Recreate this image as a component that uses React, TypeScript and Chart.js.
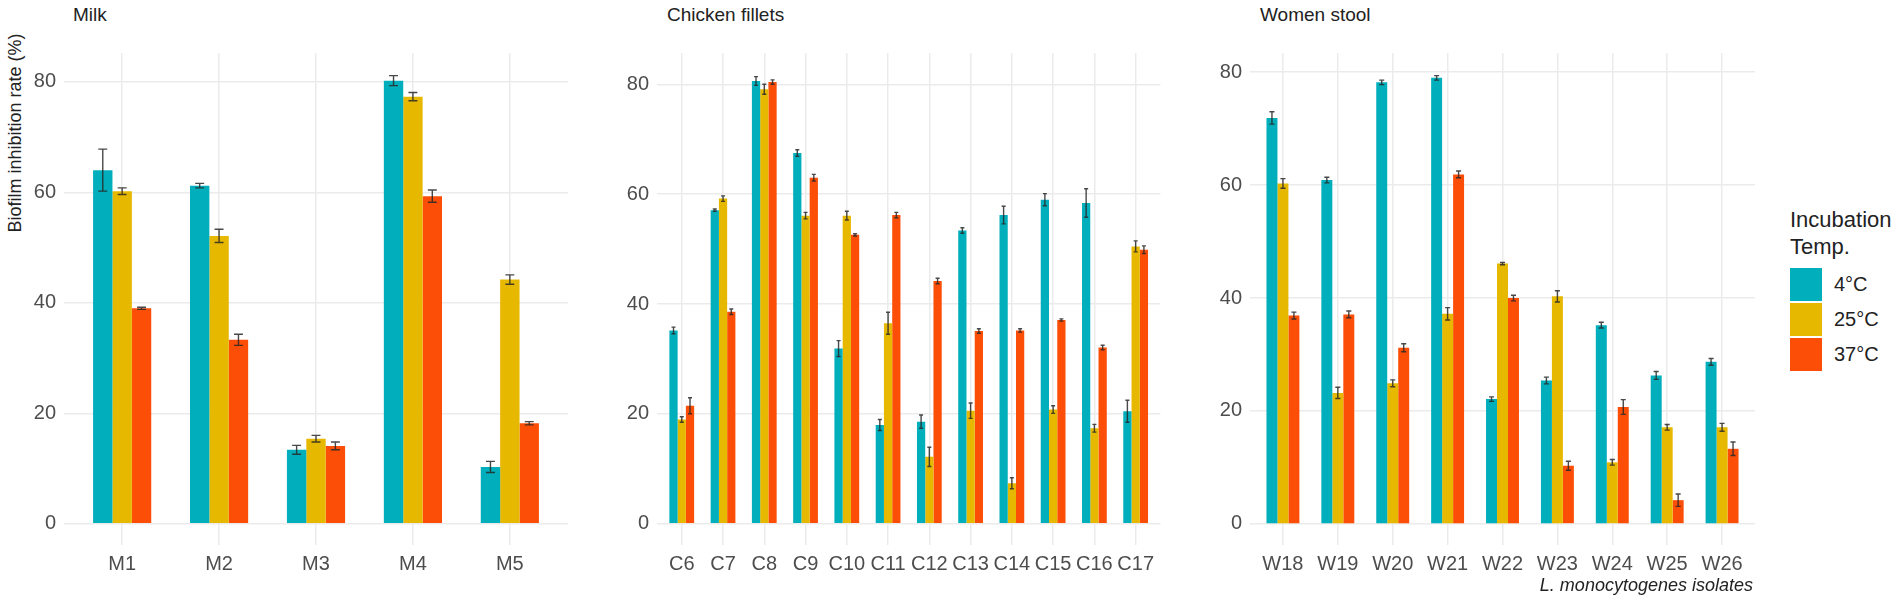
import { useEffect, useRef } from "react";
import { Chart, registerables } from "chart.js";

Chart.register(...registerables);

const FONT = "'Liberation Sans', Arial, sans-serif";
const COLORS = ["#00AFBB", "#E7B800", "#FC4E07"];
const seriesNames = ["4°C", "25°C", "37°C"];
const yTicks = [0, 20, 40, 60, 80];

// Milk
const milkLabels = ["M1", "M2", "M3", "M4", "M5"];
const milk4 = [64.0, 61.2, 13.4, 80.2, 10.3];
const milk4Err = [3.8, 0.4, 0.8, 0.9, 1.0];
const milk25 = [60.2, 52.1, 15.4, 77.3, 44.2];
const milk25Err = [0.6, 1.2, 0.6, 0.75, 0.85];
const milk37 = [39.0, 33.3, 14.1, 59.3, 18.2];
const milk37Err = [0.2, 1.0, 0.7, 1.1, 0.3];

// Chicken fillets
const chickenLabels = ["C6", "C7", "C8", "C9", "C10", "C11", "C12", "C13", "C14", "C15", "C16", "C17"];
const chicken4 = [35.2, 57.1, 80.6, 67.5, 31.9, 18.0, 18.6, 53.4, 56.2, 59.0, 58.4, 20.5];
const chicken4Err = [0.6, 0.2, 0.8, 0.6, 1.45, 1.0, 1.2, 0.5, 1.6, 1.1, 2.6, 2.0];
const chicken25 = [19.0, 59.2, 79.1, 56.1, 56.1, 36.5, 12.2, 20.6, 7.4, 20.8, 17.4, 50.5];
const chicken25Err = [0.5, 0.5, 0.9, 0.6, 0.8, 2.0, 1.75, 1.4, 1.0, 0.7, 0.7, 1.0];
const chicken37 = [21.5, 38.6, 80.4, 63.0, 52.6, 56.2, 44.2, 35.1, 35.2, 37.1, 32.1, 49.9];
const chicken37Err = [1.45, 0.5, 0.4, 0.6, 0.2, 0.5, 0.5, 0.4, 0.3, 0.2, 0.4, 0.7];

// Women stool
const womenLabels = ["W18", "W19", "W20", "W21", "W22", "W23", "W24", "W25", "W26"];
const women4 = [71.9, 60.9, 78.2, 79.0, 22.1, 25.4, 35.2, 26.3, 28.7];
const women4Err = [1.1, 0.5, 0.4, 0.4, 0.4, 0.6, 0.5, 0.7, 0.6];
const women25 = [60.3, 23.2, 24.9, 37.2, 46.1, 40.3, 10.9, 17.1, 17.1];
const women25Err = [0.85, 1.0, 0.6, 1.1, 0.2, 1.0, 0.5, 0.5, 0.7];
const women37 = [36.9, 37.1, 31.2, 61.9, 40.0, 10.3, 20.7, 4.2, 13.3];
const women37Err = [0.6, 0.6, 0.7, 0.6, 0.5, 0.8, 1.3, 1.1, 1.2];

const errorBars = {
  id: "errorBars",
  afterDatasetsDraw(chart: any) {
    const ctx = chart.ctx;
    const y = chart.scales.y;
    ctx.save();
    ctx.strokeStyle = "rgba(40,40,40,0.85)";
    ctx.lineWidth = 1.4;
    chart.data.datasets.forEach((ds: any, i: number) => {
      const meta = chart.getDatasetMeta(i);
      meta.data.forEach((bar: any, j: number) => {
        const v = ds.data[j].y;
        const e = ds.errors[j];
        const top = y.getPixelForValue(v + e);
        const bot = y.getPixelForValue(v - e);
        const half = Math.max(2, bar.width * 0.23);
        ctx.beginPath();
        ctx.moveTo(bar.x, top);
        ctx.lineTo(bar.x, bot);
        ctx.moveTo(bar.x - half, top);
        ctx.lineTo(bar.x + half, top);
        ctx.moveTo(bar.x - half, bot);
        ctx.lineTo(bar.x + half, bot);
        ctx.stroke();
      });
    });
    ctx.restore();
  },
};

interface PanelProps {
  labels: string[];
  values: number[][];
  errors: number[][];
  yMin: number;
  yMax: number;
  left: number;
  width: number;
  axisWidth: number;
}

function Panel({ labels, values, errors, yMin, yMax, left, width, axisWidth }: PanelProps) {
  const chartRef = useRef<HTMLCanvasElement>(null);
  const chartInstance = useRef<Chart | null>(null);

  useEffect(() => {
    if (!chartRef.current) return;
    if (chartInstance.current) chartInstance.current.destroy();
    const ctx = chartRef.current.getContext("2d");
    if (!ctx) return;

    chartInstance.current = new Chart(ctx, {
      type: "bar",
      data: {
        datasets: values.map((vals, k) => ({
          label: seriesNames[k],
          data: vals.map((v, i) => ({ x: i, y: v })),
          errors: errors[k],
          backgroundColor: COLORS[k],
          borderWidth: 0,
          categoryPercentage: 0.6,
          barPercentage: 1,
        })) as any,
      },
      options: {
        animation: false,
        responsive: true,
        maintainAspectRatio: false,
        layout: { padding: 0, autoPadding: false },
        plugins: { legend: { display: false }, tooltip: { enabled: false } },
        scales: {
          x: {
            type: "linear",
            min: -0.6,
            max: labels.length - 0.4,
            offset: false,
            grid: { color: "#EBEBEB", lineWidth: 1.5, drawTicks: false, offset: false },
            border: { display: false },
            afterBuildTicks: (scale: any) => {
              scale.ticks = labels.map((_, i) => ({ value: i }));
            },
            afterFit: (scale: any) => {
              scale.height = 57;
            },
            ticks: {
              autoSkip: false,
              maxRotation: 0,
              padding: 7,
              color: "#4D4D4D",
              font: { family: FONT, size: 20 },
              callback: (v: any) => labels[v],
            },
          },
          y: {
            min: yMin,
            max: yMax,
            grid: { color: "#EBEBEB", lineWidth: 1.5, drawTicks: false },
            border: { display: false },
            afterBuildTicks: (scale: any) => {
              scale.ticks = yTicks.map((v) => ({ value: v }));
            },
            afterFit: (scale: any) => {
              scale.width = axisWidth;
            },
            ticks: {
              padding: 8,
              color: "#4D4D4D",
              font: { family: FONT, size: 20 },
            },
          },
        },
      },
      plugins: [errorBars],
    });

    return () => {
      if (chartInstance.current) {
        chartInstance.current.destroy();
        chartInstance.current = null;
      }
    };
  }, [labels, values, errors, yMin, yMax, axisWidth]);

  return (
    <div style={{ position: "absolute", left, top: 33, width, height: 569 }}>
      <canvas ref={chartRef} />
    </div>
  );
}

const titleStyle: React.CSSProperties = {
  position: "absolute",
  top: 3,
  fontSize: 19,
  color: "#222",
  lineHeight: "24px",
};

export default function App() {
  return (
    <div
      style={{
        position: "fixed",
        left: 0,
        top: 0,
        width: 1902,
        height: 602,
        background: "#fff",
        fontFamily: FONT,
        overflow: "hidden",
      }}
    >
      <div style={{ ...titleStyle, left: 73 }}>Milk</div>
      <div style={{ ...titleStyle, left: 667 }}>Chicken fillets</div>
      <div style={{ ...titleStyle, left: 1260 }}>Women stool</div>
      <div
        style={{
          position: "absolute",
          left: 15,
          top: 133,
          fontSize: 18,
          color: "#222",
          whiteSpace: "nowrap",
          transform: "translate(-50%, -50%) rotate(-90deg)",
        }}
      >
        Biofilm inhibition rate (%)
      </div>

      <Panel
        labels={milkLabels}
        values={[milk4, milk25, milk37]}
        errors={[milk4Err, milk25Err, milk37Err]}
        yMin={-3.83}
        yMax={85.2}
        left={0}
        width={568}
        axisWidth={64}
      />
      <Panel
        labels={chickenLabels}
        values={[chicken4, chicken25, chicken37]}
        errors={[chicken4Err, chicken25Err, chicken37Err]}
        yMin={-3.85}
        yMax={85.7}
        left={600}
        width={561}
        axisWidth={57}
      />
      <Panel
        labels={womenLabels}
        values={[women4, women25, women37]}
        errors={[women4Err, women25Err, women37Err]}
        yMin={-3.74}
        yMax={83.4}
        left={1190}
        width={565}
        axisWidth={60}
      />

      <div
        style={{
          position: "absolute",
          right: 1902 - 1753,
          top: 573,
          fontSize: 18,
          fontStyle: "italic",
          color: "#222",
          lineHeight: "24px",
          whiteSpace: "nowrap",
        }}
      >
        L. monocytogenes isolates
      </div>

      <div style={{ position: "absolute", left: 1790, top: 206, fontSize: 22, lineHeight: "27px", color: "#222" }}>
        Incubation
        <br />
        Temp.
      </div>
      {seriesNames.map((name, k) => (
        <div key={name}>
          <div
            style={{
              position: "absolute",
              left: 1790,
              top: 268 + k * 35,
              width: 32,
              height: 33,
              background: COLORS[k],
            }}
          />
          <div
            style={{
              position: "absolute",
              left: 1834,
              top: 272 + k * 35,
              fontSize: 20,
              lineHeight: "24px",
              color: "#222",
            }}
          >
            {name}
          </div>
        </div>
      ))}
    </div>
  );
}
